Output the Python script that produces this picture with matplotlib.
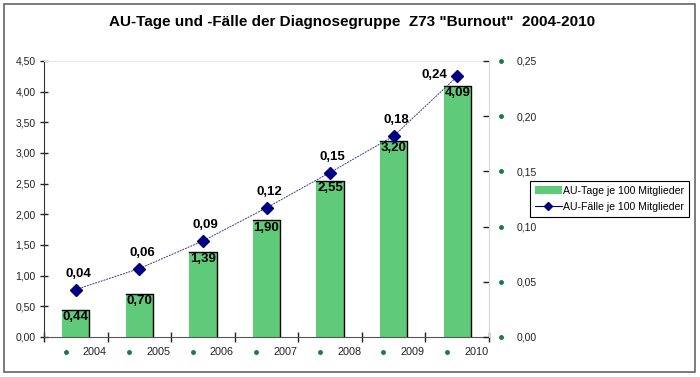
import numpy as np
import matplotlib
matplotlib.use('Agg')
import matplotlib.pyplot as plt
from matplotlib.transforms import blended_transform_factory
from matplotlib.patches import Rectangle
from matplotlib.lines import Line2D
from matplotlib.patches import Patch

plt.rcParams['font.family'] = ['Liberation Sans', 'DejaVu Sans']

# Daten
jahre = ['2004', '2005', '2006', '2007', '2008', '2009', '2010']
au_tage = [0.44, 0.70, 1.39, 1.90, 2.55, 3.20, 4.09]   # AU-Tage je 100 Mitglieder
au_faelle = [0.043, 0.062, 0.087, 0.117, 0.149, 0.182, 0.236]  # AU-Faelle je 100 Mitglieder
links_ticks = [0, 0.5, 1.0, 1.5, 2.0, 2.5, 3.0, 3.5, 4.0, 4.5]
rechts_ticks = [0, 0.05, 0.10, 0.15, 0.20, 0.25]

gruen = '#5fcb78'
blau = '#000080'
dunkelgruen = '#1a7a40'

def komma(v):
    return ('%.2f' % v).replace('.', ',')

fig = plt.figure(figsize=(7, 3.77), dpi=100)
ax = fig.add_axes([44/700, 1-337/377, (489-44)/700, (337-61)/377])
ax2 = ax.twinx()

x = np.arange(len(jahre))
balken = ax.bar(x, au_tage, width=0.43, color=gruen, zorder=2)
# dunkle Kante oben und rechts
for b in balken:
    x0, x1 = b.get_x(), b.get_x() + b.get_width()
    h = b.get_height()
    ax.plot([x0, x1, x1], [h, h, 0], color='black', lw=1.0, zorder=3)

ax.set_xlim(-0.5, len(jahre) - 0.5)
ax.set_ylim(0, 4.5)
ax.set_yticks(links_ticks)
ax.set_yticklabels([komma(v) for v in links_ticks])
ax.set_xticks(np.arange(len(jahre) + 1) - 0.5)
ax.set_xticklabels([])
ax.tick_params(axis='y', direction='inout', length=6, width=1, colors='#222222', labelsize=7.5, pad=3)
ax.tick_params(axis='x', direction='inout', length=7, width=1, colors='#222222')
ax.spines['left'].set_color('#333333')
ax.spines['bottom'].set_color('#555555')
ax.spines['top'].set_color('#e6e6e6')
ax.spines['right'].set_visible(False)

# Jahreszahlen mit gruenen Punkten
trans = blended_transform_factory(ax.transData, ax.transAxes)
for i, j in enumerate(jahre):
    ax.text(i + 0.30, -0.055, j, transform=trans, ha='center', va='center', fontsize=7.8, color='#222222')
    ax.plot(i - 0.16, -0.055, 'o', ms=2.5, color=dunkelgruen, transform=trans, clip_on=False)

# Werte in den Balken
for i, v in enumerate(au_tage):
    ax.text(i, v - 0.02, komma(v), ha='center', va='top', fontsize=9.5, fontweight='bold', zorder=4)

ax2.plot(x, au_faelle, color='#3a3a90', lw=0.7, ls=(0, (2, 1)), zorder=3)
ax2.plot(x, au_faelle, 'D', color=blau, ms=6, zorder=4)
ax2.set_ylim(0, 0.25)
ax2.set_yticks(rechts_ticks)
ax2.set_yticklabels([komma(v) for v in rechts_ticks])
ax2.tick_params(axis='y', direction='in', length=4, width=1, colors='#222222', labelsize=7.5, pad=20)
ax2.spines['right'].set_color('#d8d8d8')
for s in ['left', 'top', 'bottom']:
    ax2.spines[s].set_visible(False)

trans2 = blended_transform_factory(ax2.transAxes, ax2.transData)
for v in rechts_ticks:
    ax2.plot(1.027, v, 'o', ms=2.5, color=dunkelgruen, transform=trans2, clip_on=False)

for i, v in enumerate(au_faelle):
    if i == len(au_faelle) - 1:
        ax2.annotate(komma(v), (i, v), xytext=(-7, 1), textcoords='offset points',
                     ha='right', va='center', fontsize=9.5, fontweight='bold')
    else:
        ax2.annotate(komma(v), (i, v), xytext=(2, 7), textcoords='offset points',
                     ha='center', va='bottom', fontsize=9.5, fontweight='bold')

fig.text(352/700, 1-22/377, 'AU-Tage und -Fälle der Diagnosegruppe  Z73 "Burnout"  2004-2010',
         ha='center', va='center', fontsize=11, fontweight='bold')

handles = [Patch(facecolor=gruen, edgecolor='none'),
           Line2D([0], [0], color=blau, lw=0.8, marker='D', ms=4)]
leg = fig.legend(handles, ['AU-Tage je 100 Mitglieder', 'AU-Fälle je 100 Mitglieder'],
                 loc='upper left', bbox_to_anchor=(530/700, 1-181/377), fontsize=7.6,
                 frameon=True, fancybox=False, framealpha=1, edgecolor='black',
                 handlelength=2.6, handleheight=0.8, borderpad=0.45, labelspacing=0.6,
                 handletextpad=0.1, borderaxespad=0)
leg.get_frame().set_linewidth(0.8)

fig.patches.append(Rectangle((4/700, 5/377), 691/700, 368/377, transform=fig.transFigure,
                             fill=False, edgecolor='#666666', lw=1.2))

fig.savefig('out.png', dpi=100)
